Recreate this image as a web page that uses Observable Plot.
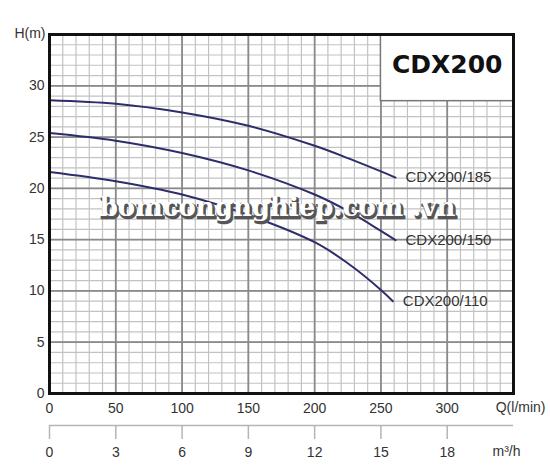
<!DOCTYPE html>
<html><head><meta charset="utf-8">
<script src="https://cdn.jsdelivr.net/npm/d3@7"></script>
<script src="https://cdn.jsdelivr.net/npm/@observablehq/plot@0.6"></script>
<style>
html,body{margin:0;padding:0;background:#fff;}
</style></head><body><div id="chart"></div>
<script>
// Tick values and labels
const qTicks = [0, 50, 100, 150, 200, 250, 300];
const hTicks = [0, 5, 10, 15, 20, 25, 30];
const m3hLabels = ["0", "3", "6", "9", "12", "15", "18"];
const models = ["CDX200/185", "CDX200/150", "CDX200/110"];
const title = "CDX200";
const watermark = "bomcongnghiep.com .vn";

// Curves (Q in l/min, H in m)
const q185 = [0, 50, 100, 150, 200, 225, 250, 261];
const h185 = [28.6, 28.25, 27.4, 26.1, 24.15, 22.95, 21.65, 21.05];
const q150 = [0, 50, 100, 150, 200, 225, 250, 261];
const h150 = [25.4, 24.65, 23.45, 21.75, 19.4, 17.8, 15.85, 14.95];
const q110 = [0, 50, 100, 150, 200, 225, 250, 259];
const h110 = [21.6, 20.7, 19.4, 17.4, 14.75, 12.7, 10.1, 9.0];

const seriesQ = [q185, q150, q110];
const seriesH = [h185, h150, h110];
const curves = models.flatMap((m, k) => seriesQ[k].map((q, i) => ({model: m, q, h: seriesH[k][i]})));
const ends = models.map((m, k) => ({model: m, q: seriesQ[k].at(-1), h: seriesH[k].at(-1)}));

const minorX = d3.range(0, 351, 10);
const majorX = d3.range(0, 351, 50);
const minorY = d3.range(0, 36, 1);
const majorY = d3.range(0, 36, 5);

const wmFont = "'DejaVu Serif', 'Liberation Serif', serif";

const plot = Plot.plot({
  width: 550,
  height: 474,
  marginLeft: 49,
  marginRight: 37,
  marginTop: 34,
  marginBottom: 81,
  style: {fontFamily: "'Liberation Sans', Arial, sans-serif", fontSize: "14px", color: "#333", background: "#fff"},
  x: {domain: [0, 350]},
  y: {domain: [0, 35]},
  marks: [
    Plot.gridX(minorX, {stroke: "#c2c2c2", strokeOpacity: 1, strokeWidth: 1.2}),
    Plot.gridY(minorY, {stroke: "#c2c2c2", strokeOpacity: 1, strokeWidth: 1.2}),
    Plot.gridX(majorX, {stroke: "#8a8a8a", strokeOpacity: 1, strokeWidth: 1.8}),
    Plot.gridY(majorY, {stroke: "#8a8a8a", strokeOpacity: 1, strokeWidth: 1.8}),
    Plot.rect([title], {x1: 250, x2: 350, y1: 28.5, y2: 35, fill: "white", stroke: "#777", strokeWidth: 1.5}),
    Plot.text([title], {x: 300, y: 32, text: d => d, fontFamily: "'DejaVu Sans', sans-serif", fontWeight: "bold", fontSize: 25, fill: "#111"}),
    Plot.line(curves, {x: "q", y: "h", z: "model", curve: "catmull-rom", stroke: "#2e2d6b", strokeWidth: 2}),
    Plot.text([watermark], {x: 172, y: 18.1, dx: 1.5, dy: 2, text: d => d, fontFamily: wmFont, fontWeight: "bold", fontSize: 26, fill: "#555", stroke: "#555", strokeWidth: 2.5, ariaLabel: "wm-shadow"}),
    Plot.text([watermark], {x: 172, y: 18.1, text: d => d, fontFamily: wmFont, fontWeight: "bold", fontSize: 26, fill: "white", ariaLabel: "wm-text"}),
    Plot.text(ends, {x: "q", y: "h", text: "model", textAnchor: "start", dx: 10, dy: 0, fill: "#333", fontSize: 15}),
    Plot.axisY(hTicks, {anchor: "left", tickSize: 0, tickPadding: 5, label: null, fill: "#333"}),
    Plot.axisX(qTicks, {anchor: "bottom", tickSize: 0, tickPadding: 10, label: null, fill: "#333"}),
    Plot.ruleY([0], {x1: 0, x2: 350, dy: 32, stroke: "#b5b5b5", strokeWidth: 1.5}),
    Plot.axisX(qTicks, {anchor: "bottom", tickSize: 14, tickPadding: 8, dy: 32, label: null, stroke: "#b5b5b5", strokeWidth: 1.5, fill: "#333",
      tickFormat: d => m3hLabels[qTicks.indexOf(d)]}),
    Plot.text(["H(m)"], {frameAnchor: "top-left", text: d => d, textAnchor: "end", dx: -4, dy: -6, fill: "#333"}),
    Plot.text(["Q(l/min)"], {frameAnchor: "bottom-right", text: d => d, textAnchor: "end", dx: 32, dy: 18, fill: "#333"}),
    Plot.text(["m³/h"], {frameAnchor: "bottom-right", text: d => d, textAnchor: "middle", dx: -7, dy: 62, fill: "#333"}),
    Plot.frame({stroke: "#111", strokeWidth: 3})
  ]
});
document.getElementById("chart").appendChild(plot);
// blur filter for the watermark shadow
const ns = "http://www.w3.org/2000/svg";
const defs = document.createElementNS(ns, "defs");
const filter = document.createElementNS(ns, "filter");
filter.setAttribute("id", "wmblur");
filter.setAttribute("x", "-10%"); filter.setAttribute("y", "-50%");
filter.setAttribute("width", "120%"); filter.setAttribute("height", "200%");
const blur = document.createElementNS(ns, "feGaussianBlur");
blur.setAttribute("stdDeviation", "1.8");
filter.appendChild(blur);
defs.appendChild(filter);
plot.insertBefore(defs, plot.firstChild);
plot.querySelectorAll('g[aria-label="wm-shadow"]').forEach(g => {
  g.setAttribute("filter", "url(#wmblur)");
  g.setAttribute("opacity", "0.65");
});
</script>
</body></html>
